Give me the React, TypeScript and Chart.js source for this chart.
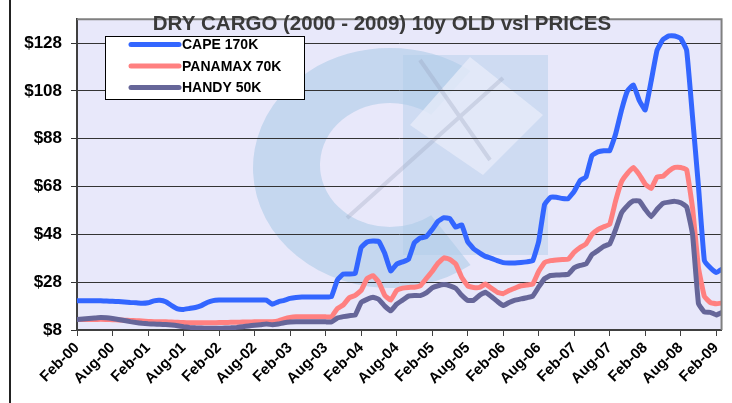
import React, { useEffect, useRef } from 'react';
import { Chart, registerables } from 'chart.js';

Chart.register(...registerables);

const TITLE = 'DRY CARGO (2000 - 2009) 10y OLD vsl PRICES';
const SERIES_NAMES = ['CAPE 170K', 'PANAMAX 70K', 'HANDY 50K'];
const SERIES_COLORS = ['#3366FF', '#FF8080', '#666699'];
const TICK_LABELS = [
  'Feb-00', 'Aug-00', 'Feb-01', 'Aug-01', 'Feb-02', 'Aug-02', 'Feb-03', 'Aug-03', 'Feb-04', 'Aug-04',
  'Feb-05', 'Aug-05', 'Feb-06', 'Aug-06', 'Feb-07', 'Aug-07', 'Feb-08', 'Aug-08', 'Feb-09',
];
const MONTHS_PER_TICK = 6;
const Y_TICKS = [8, 28, 48, 68, 88, 108, 128];

// monthly values, index 0 = Feb-00 ... index 109 = Mar-09
const CAPE = [
  20.2, 20.2, 20.2, 20.2, 20.2, 20.1, 20.0, 19.9, 19.7, 19.5, 19.4, 19.2,
  19.4, 20.2, 20.4, 19.8, 18.2, 16.8, 16.6, 17.0, 17.4, 18.2, 19.5, 20.3,
  20.5, 20.5, 20.5, 20.5, 20.5, 20.5, 20.5, 20.5, 20.5, 18.8, 19.8, 20.4,
  21.2, 21.6, 21.8, 21.8, 21.8, 21.8, 21.8, 22.0, 29.0, 31.4, 31.4, 31.6,
  42.5, 44.8, 45.2, 45.0, 40.0, 32.7, 35.5, 36.5, 37.5, 44.5, 46.5, 47.0,
  50.0, 53.5, 55.0, 54.6, 51.0, 52.0, 45.0, 42.0, 40.3, 38.8, 38.0, 37.0,
  36.2, 36.0, 36.0, 36.2, 36.5, 37.0, 45.0, 60.5, 63.5, 63.5, 63.0, 63.0,
  66.0, 70.5, 72.0, 81.0, 82.5, 83.0, 83.0, 90.0, 100.0, 108.0, 110.5, 104.0,
  100.0, 112.0, 125.0, 129.5, 131.0, 131.0, 130.0, 125.0, 97.0, 68.0, 37.0, 34.0,
  32.0, 33.5,
];
const PANAMAX = [
  12.4, 12.4, 12.4, 12.4, 12.5, 12.4, 12.3, 12.2, 12.1, 12.0, 11.9, 11.8,
  11.6, 11.5, 11.5, 11.4, 11.3, 11.2, 11.1, 11.0, 11.0, 11.0, 11.0, 11.0,
  11.1, 11.1, 11.2, 11.2, 11.3, 11.3, 11.4, 11.4, 11.5, 11.5, 11.8, 12.6,
  13.2, 13.5, 13.5, 13.5, 13.5, 13.5, 13.5, 13.5, 17.0, 18.5, 21.5, 22.5,
  24.5, 29.5, 30.7, 28.0, 22.5, 20.5, 24.5, 25.5, 25.8, 25.9, 26.5, 29.5,
  32.5, 36.0, 38.2, 37.5, 35.6, 30.0, 26.5, 25.8, 25.8, 27.2, 25.5, 23.8,
  23.2, 24.5, 25.5, 26.5, 26.8, 27.2, 32.5, 36.2, 37.0, 37.3, 37.5, 37.6,
  40.5, 42.5, 44.0, 48.0, 50.0, 51.2, 52.2, 62.0, 70.0, 73.5, 76.0, 73.0,
  69.0, 67.2, 72.0, 72.3, 74.5, 76.0, 76.0, 75.0, 59.0, 34.0, 22.0, 19.5,
  19.0, 19.3,
];
const HANDY = [
  12.4, 12.6, 12.8, 13.0, 13.2, 13.1, 12.8, 12.4, 12.0, 11.5, 11.1, 10.8,
  10.6, 10.5, 10.4, 10.3, 10.1, 9.8, 9.4, 9.1, 8.9, 8.8, 8.7, 8.7,
  8.7, 8.8, 8.9, 9.1, 9.4, 9.7, 10.0, 10.2, 10.5, 10.2, 10.5, 11.0,
  11.3, 11.4, 11.4, 11.4, 11.4, 11.4, 11.4, 11.4, 13.0, 13.6, 14.0, 14.2,
  19.5, 20.8, 21.7, 20.8, 18.0, 16.0, 18.8, 20.5, 22.2, 22.4, 22.4, 23.5,
  25.6, 26.5, 27.0, 26.5, 25.4, 22.5, 20.4, 20.4, 22.5, 23.8, 22.0, 20.0,
  18.2, 19.5, 20.5, 21.0, 21.5, 22.2, 26.0, 29.5, 30.8, 31.0, 31.1, 31.3,
  34.0, 35.0, 35.6, 39.5, 41.2, 43.0, 44.0, 50.0, 57.0, 60.0, 62.0, 62.0,
  58.5, 55.4, 58.5, 61.0, 61.5, 61.8, 61.2, 59.5, 48.0, 19.0, 15.5, 15.4,
  14.3, 15.4,
];
const SERIES = [CAPE, PANAMAX, HANDY];

const FONT = '"Liberation Sans", Arial, Helvetica, sans-serif';

const decorPlugin = {
  id: 'decor',
  beforeDraw(chart: any) {
    const { ctx, chartArea: a } = chart;
    ctx.save();
    ctx.fillStyle = '#ffffff';
    ctx.fillRect(0, 0, chart.width, chart.height);
    ctx.fillStyle = '#E8E8FA';
    ctx.fillRect(a.left, a.top, a.right - a.left, a.bottom - a.top);
    ctx.beginPath();
    ctx.rect(a.left, a.top, a.right - a.left, a.bottom - a.top);
    ctx.clip();
    // faint watermark logo
    ctx.fillStyle = 'rgba(168,200,230,0.55)';
    ctx.beginPath();
    ctx.ellipse(390, 168, 137, 120, 0, Math.PI * 0.3, Math.PI * 1.7, false);
    ctx.ellipse(390, 165, 70, 62, 0, Math.PI * 1.7, Math.PI * 0.3, true);
    ctx.closePath();
    ctx.fill();
    ctx.fillStyle = 'rgba(175,205,232,0.45)';
    ctx.fillRect(403, 55, 145, 200);
    ctx.fillStyle = 'rgba(232,236,250,0.75)';
    ctx.beginPath();
    ctx.moveTo(470, 57);
    ctx.lineTo(543, 115);
    ctx.lineTo(483, 175);
    ctx.lineTo(410, 125);
    ctx.closePath();
    ctx.fill();
    ctx.strokeStyle = 'rgba(150,160,185,0.3)';
    ctx.lineWidth = 4;
    ctx.beginPath();
    ctx.moveTo(347, 218);
    ctx.lineTo(503, 78);
    ctx.moveTo(420, 60);
    ctx.lineTo(490, 160);
    ctx.stroke();
    ctx.restore();
  },
  afterDraw(chart: any) {
    const { ctx, chartArea: a } = chart;
    ctx.save();
    // plot border
    ctx.strokeStyle = '#808080';
    ctx.lineWidth = 2;
    ctx.beginPath();
    ctx.moveTo(a.left, a.top);
    ctx.lineTo(a.right, a.top);
    ctx.lineTo(a.right, a.bottom);
    ctx.stroke();
    // outer left line
    ctx.strokeStyle = '#222222';
    ctx.lineWidth = 2;
    ctx.beginPath();
    ctx.moveTo(10, 0);
    ctx.lineTo(10, chart.height);
    ctx.stroke();
    // title
    ctx.fillStyle = '#3a3a3a';
    ctx.font = `bold 20.5px ${FONT}`;
    ctx.textAlign = 'center';
    ctx.textBaseline = 'alphabetic';
    ctx.fillText(TITLE, 382, 30);
    // legend
    const bx = 105, by = 36, bw = 199, bh = 63;
    ctx.fillStyle = '#ffffff';
    ctx.fillRect(bx, by, bw, bh);
    ctx.strokeStyle = '#000000';
    ctx.lineWidth = 1;
    ctx.strokeRect(bx + 0.5, by + 0.5, bw, bh);
    ctx.font = `bold 14px ${FONT}`;
    ctx.textAlign = 'left';
    ctx.textBaseline = 'middle';
    SERIES_NAMES.forEach((name, i) => {
      const y = 44.5 + i * 21.5;
      ctx.strokeStyle = SERIES_COLORS[i];
      ctx.lineWidth = 5;
      ctx.lineCap = 'round';
      ctx.beginPath();
      ctx.moveTo(131, y);
      ctx.lineTo(179, y);
      ctx.stroke();
      ctx.fillStyle = '#000000';
      ctx.fillText(name, 182, y + 1);
    });
    ctx.restore();
  },
};

export default function App() {
  const ref = useRef<HTMLCanvasElement | null>(null);
  useEffect(() => {
    document.body.style.margin = '0';
    const canvas = ref.current;
    if (!canvas) return;
    const datasets = SERIES.map((vals, i) => ({
      label: SERIES_NAMES[i],
      data: vals.map((v, m) => ({ x: m, y: v })),
      borderColor: SERIES_COLORS[i],
      backgroundColor: SERIES_COLORS[i],
      borderWidth: 5,
      pointRadius: 0,
      tension: 0.1,
      borderJoinStyle: 'round' as const,
      borderCapStyle: 'round' as const,
      order: 2 - i,
    }));
    const chart = new Chart(canvas, {
      type: 'line',
      data: { datasets },
      options: {
        animation: false,
        responsive: false,
        maintainAspectRatio: false,
        layout: { padding: { left: 0, top: 15, right: 5, bottom: 0 } },
        plugins: { legend: { display: false }, title: { display: false }, tooltip: { enabled: false } },
        scales: {
          x: {
            type: 'linear',
            min: 0,
            max: 108.9,
            afterBuildTicks: (s: any) => {
              s.ticks = TICK_LABELS.map((_, i) => ({ value: i * MONTHS_PER_TICK }));
            },
            afterFit: (s: any) => {
              s.height = 73;
            },
            ticks: {
              autoSkip: false,
              minRotation: 45,
              maxRotation: 45,
              padding: 3,
              color: '#000000',
              font: { family: FONT, size: 15, weight: 'bold' },
              callback: (v: any) => TICK_LABELS[Math.round(v / MONTHS_PER_TICK)] ?? '',
            },
            grid: { drawOnChartArea: false, drawTicks: true, tickLength: 6, color: '#404040', lineWidth: 1 },
            border: { display: true, color: '#404040', width: 2 },
          },
          y: {
            type: 'linear',
            min: 8,
            max: 138,
            afterBuildTicks: (s: any) => {
              s.ticks = Y_TICKS.map((v) => ({ value: v }));
            },
            afterFit: (s: any) => {
              s.width = 77;
            },
            ticks: {
              padding: 9,
              color: '#000000',
              font: { family: FONT, size: 17, weight: 'bold' },
              callback: (v: any) => '$' + v,
            },
            grid: { color: '#333333', lineWidth: 1, tickLength: 6, drawTicks: true },
            border: { display: true, color: '#404040', width: 2 },
          },
        },
      },
      plugins: [decorPlugin],
    });
    return () => chart.destroy();
  }, []);
  return (
    <div style={{ width: 732, height: 403, position: 'relative' }}>
      <canvas ref={ref} width={732} height={403} style={{ display: 'block', width: 732, height: 403 }} />
    </div>
  );
}
